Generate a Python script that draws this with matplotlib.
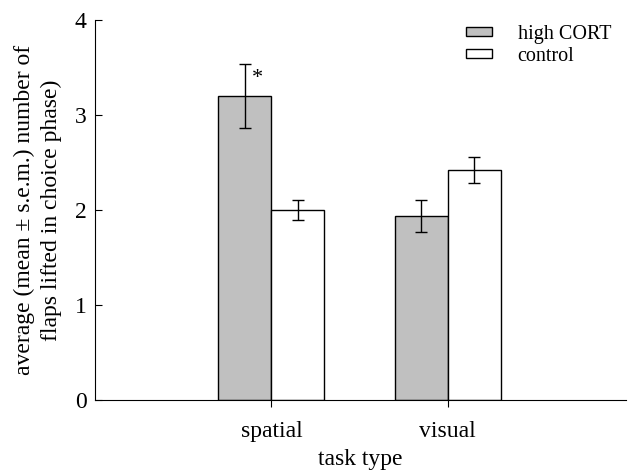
import matplotlib
matplotlib.use("Agg")
import matplotlib.pyplot as plt
import numpy as np

categories = ["spatial", "visual"]
high_cort = [3.20, 1.94]
high_cort_sem = [0.335, 0.17]
control = [2.00, 2.42]
control_sem = [0.105, 0.135]
series_names = ["high CORT", "control"]

plt.rcParams['font.family'] = ['Liberation Serif', 'DejaVu Serif']

fig = plt.figure(figsize=(6.31, 4.72), dpi=100)
ax = fig.add_axes([95/631, 72/472, 531/631, 380/472])

x = np.arange(len(categories))
w = 0.30
ax.bar(x - w/2, high_cort, w, color='#c0c0c0', edgecolor='black', linewidth=1.0,
       label=series_names[0], zorder=2)
ax.bar(x + w/2, control, w, color='white', edgecolor='black', linewidth=1.0,
       label=series_names[1], zorder=2)
ax.errorbar(x - w/2, high_cort, yerr=high_cort_sem, fmt='none', ecolor='black',
            elinewidth=1.0, capsize=4, capthick=1.0, zorder=3)
ax.errorbar(x + w/2, control, yerr=control_sem, fmt='none', ecolor='black',
            elinewidth=1.0, capsize=4, capthick=1.0, zorder=3)

ax.text(x[0] - w/2 + 0.07, high_cort[0] + 0.18, "*", fontsize=16, ha='center', va='center')

ax.set_xlim(-1.0, 2.01)
ax.set_ylim(0, 4)
ax.set_yticks([0, 1, 2, 3, 4])
ax.set_xticks(x)
ax.set_xticklabels(categories)
ax.spines['top'].set_visible(False)
ax.spines['right'].set_visible(False)
ax.tick_params(axis='y', direction='in', length=5, labelsize=17, pad=6)
ax.tick_params(axis='x', direction='out', length=5, labelsize=17, pad=10)
ax.set_xlabel("task type", fontsize=17, labelpad=5)
ax.set_ylabel("average (mean ± s.e.m.) number of\nflaps lifted in choice phase)", fontsize=17,
              labelpad=9, linespacing=1.35)

leg = ax.legend(loc='upper right', frameon=False, fontsize=14.5, handlelength=1.3,
                handleheight=0.3, bbox_to_anchor=(1.006, 1.035), labelspacing=0.15,
                handletextpad=1.25)

fig.savefig("out.png", dpi=100)
